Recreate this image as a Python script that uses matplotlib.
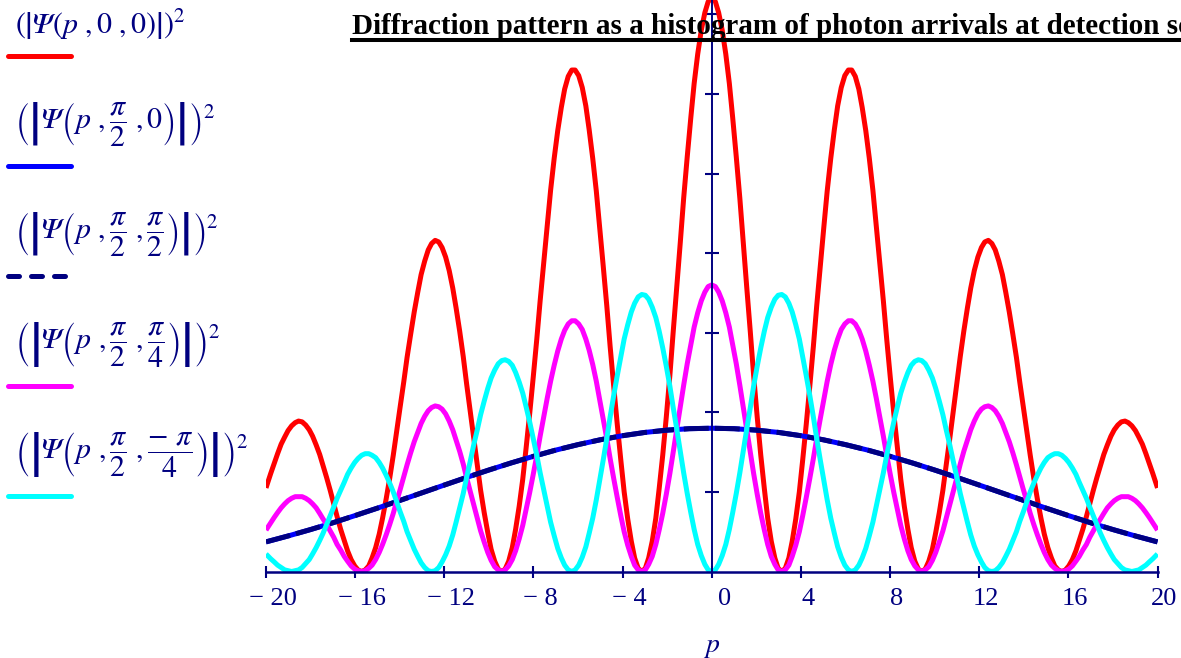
import matplotlib
matplotlib.use('Agg')
import matplotlib.pyplot as plt
from matplotlib.lines import Line2D
from matplotlib.transforms import ScaledTranslation

plt.rcParams['font.family'] = ['Liberation Serif', 'DejaVu Serif']
plt.rcParams['mathtext.fontset'] = 'stix'

# p positions of the fringe curves (read along the axis)
p = [-20.00, -19.79, -19.63, -19.48, -19.32, -19.16, -19.01, -18.85,
     -18.69, -18.54, -18.38, -18.22, -18.06, -17.91, -17.75, -17.59, -17.44, -17.28,
     -17.12, -16.96, -16.81, -16.65, -16.49, -16.34, -16.18, -16.02, -15.87, -15.71,
     -15.55, -15.39, -15.24, -15.08, -14.92, -14.77, -14.61, -14.45, -14.29, -14.14,
     -13.98, -13.82, -13.67, -13.51, -13.35, -13.19, -13.04, -12.88, -12.72, -12.57,
     -12.41, -12.25, -12.10, -11.94, -11.78, -11.62, -11.47, -11.31, -11.15, -11.00,
     -10.84, -10.68, -10.52, -10.37, -10.21, -10.05, -9.90, -9.74, -9.58, -9.42,
     -9.27, -9.11, -8.95, -8.80, -8.64, -8.48, -8.33, -8.17, -8.01, -7.85,
     -7.70, -7.54, -7.38, -7.23, -7.07, -6.91, -6.75, -6.60, -6.44, -6.28,
     -6.13, -5.97, -5.81, -5.65, -5.50, -5.34, -5.18, -5.03, -4.87, -4.71,
     -4.56, -4.40, -4.24, -4.08, -3.93, -3.77, -3.61, -3.46, -3.30, -3.14,
     -2.98, -2.83, -2.67, -2.51, -2.36, -2.20, -2.04, -1.88, -1.73, -1.57,
     -1.41, -1.26, -1.10, -0.94, -0.79, -0.63, -0.47, -0.31, -0.16,
     0.00, 0.16, 0.31, 0.47, 0.63, 0.79, 0.94, 1.10, 1.26, 1.41,
     1.57, 1.73, 1.88, 2.04, 2.20, 2.36, 2.51, 2.67, 2.83, 2.98,
     3.14, 3.30, 3.46, 3.61, 3.77, 3.93, 4.08, 4.24, 4.40, 4.56,
     4.71, 4.87, 5.03, 5.18, 5.34, 5.50, 5.65, 5.81, 5.97, 6.13,
     6.28, 6.44, 6.60, 6.75, 6.91, 7.07, 7.23, 7.38, 7.54, 7.70,
     7.85, 8.01, 8.17, 8.33, 8.48, 8.64, 8.80, 8.95, 9.11, 9.27,
     9.42, 9.58, 9.74, 9.90, 10.05, 10.21, 10.37, 10.52, 10.68, 10.84,
     11.00, 11.15, 11.31, 11.47, 11.62, 11.78, 11.94, 12.10, 12.25, 12.41,
     12.57, 12.72, 12.88, 13.04, 13.19, 13.35, 13.51, 13.67, 13.82, 13.98,
     14.14, 14.29, 14.45, 14.61, 14.77, 14.92, 15.08, 15.24, 15.39, 15.55,
     15.71, 15.87, 16.02, 16.18, 16.34, 16.49, 16.65, 16.81, 16.96, 17.12,
     17.28, 17.44, 17.59, 17.75, 17.91, 18.06, 18.22, 18.38, 18.54, 18.69,
     18.85, 19.01, 19.16, 19.32, 19.48, 19.63, 19.79, 20.00]

# |Psi(p,0,0)|^2  (red)
psi_0_0 = [1.05, 1.23, 1.36, 1.48, 1.60, 1.69, 1.77, 1.83,
           1.87, 1.89, 1.88, 1.84, 1.78, 1.70, 1.59, 1.47, 1.33, 1.18,
           1.02, 0.85, 0.69, 0.53, 0.39, 0.26, 0.15, 0.07, 0.02, 0.00,
           0.02, 0.07, 0.17, 0.30, 0.47, 0.67, 0.91, 1.17, 1.46, 1.76,
           2.07, 2.38, 2.69, 2.98, 3.26, 3.51, 3.73, 3.90, 4.04, 4.12,
           4.16, 4.14, 4.07, 3.95, 3.78, 3.56, 3.31, 3.02, 2.70, 2.36,
           2.02, 1.67, 1.34, 1.02, 0.74, 0.49, 0.28, 0.13, 0.03, 0.00,
           0.03, 0.13, 0.30, 0.53, 0.82, 1.16, 1.55, 1.98, 2.44, 2.92,
           3.40, 3.88, 4.35, 4.79, 5.19, 5.54, 5.83, 6.06, 6.22, 6.30,
           6.30, 6.23, 6.08, 5.85, 5.55, 5.19, 4.78, 4.33, 3.84, 3.34,
           2.83, 2.33, 1.85, 1.40, 1.00, 0.66, 0.38, 0.17, 0.04, 0.00,
           0.04, 0.17, 0.38, 0.67, 1.04, 1.46, 1.94, 2.46, 3.01, 3.57,
           4.14, 4.69, 5.21, 5.70, 6.13, 6.50, 6.80, 7.02, 7.16,
           7.20, 7.16, 7.02, 6.80, 6.50, 6.13, 5.70, 5.21, 4.69, 4.14,
           3.57, 3.01, 2.46, 1.94, 1.46, 1.04, 0.67, 0.38, 0.17, 0.04,
           0.00, 0.04, 0.17, 0.38, 0.66, 1.00, 1.40, 1.85, 2.33, 2.83,
           3.34, 3.84, 4.33, 4.78, 5.19, 5.55, 5.85, 6.08, 6.23, 6.30,
           6.30, 6.22, 6.06, 5.83, 5.54, 5.19, 4.79, 4.35, 3.88, 3.40,
           2.92, 2.44, 1.98, 1.55, 1.16, 0.82, 0.53, 0.30, 0.13, 0.03,
           0.00, 0.03, 0.13, 0.28, 0.49, 0.74, 1.02, 1.34, 1.67, 2.02,
           2.36, 2.70, 3.02, 3.31, 3.56, 3.78, 3.95, 4.07, 4.14, 4.16,
           4.12, 4.04, 3.90, 3.73, 3.51, 3.26, 2.98, 2.69, 2.38, 2.07,
           1.76, 1.46, 1.17, 0.91, 0.67, 0.47, 0.30, 0.17, 0.07, 0.02,
           0.00, 0.02, 0.07, 0.15, 0.26, 0.39, 0.53, 0.69, 0.85, 1.02,
           1.18, 1.33, 1.47, 1.59, 1.70, 1.78, 1.84, 1.88, 1.89, 1.87,
           1.83, 1.77, 1.69, 1.60, 1.48, 1.36, 1.23, 1.05]

# |Psi(p,pi/2,pi/4)|^2  (magenta)
psi_q_4 = [0.52, 0.61, 0.68, 0.74, 0.80, 0.85, 0.89, 0.92,
           0.94, 0.94, 0.94, 0.92, 0.89, 0.85, 0.80, 0.73, 0.66, 0.59,
           0.51, 0.43, 0.34, 0.27, 0.19, 0.13, 0.07, 0.03, 0.01, 0.00,
           0.01, 0.04, 0.08, 0.15, 0.24, 0.34, 0.46, 0.59, 0.73, 0.88,
           1.03, 1.19, 1.34, 1.49, 1.63, 1.75, 1.86, 1.95, 2.02, 2.06,
           2.08, 2.07, 2.04, 1.98, 1.89, 1.78, 1.65, 1.51, 1.35, 1.18,
           1.01, 0.84, 0.67, 0.51, 0.37, 0.24, 0.14, 0.06, 0.02, 0.00,
           0.02, 0.07, 0.15, 0.26, 0.41, 0.58, 0.78, 0.99, 1.22, 1.46,
           1.70, 1.94, 2.18, 2.39, 2.59, 2.77, 2.92, 3.03, 3.11, 3.15,
           3.15, 3.11, 3.04, 2.92, 2.78, 2.60, 2.39, 2.16, 1.92, 1.67,
           1.42, 1.17, 0.93, 0.70, 0.50, 0.33, 0.19, 0.08, 0.02, 0.00,
           0.02, 0.09, 0.19, 0.34, 0.52, 0.73, 0.97, 1.23, 1.50, 1.79,
           2.07, 2.34, 2.61, 2.85, 3.07, 3.25, 3.40, 3.51, 3.58,
           3.60, 3.58, 3.51, 3.40, 3.25, 3.07, 2.85, 2.61, 2.34, 2.07,
           1.79, 1.50, 1.23, 0.97, 0.73, 0.52, 0.34, 0.19, 0.09, 0.02,
           0.00, 0.02, 0.08, 0.19, 0.33, 0.50, 0.70, 0.93, 1.17, 1.42,
           1.67, 1.92, 2.16, 2.39, 2.60, 2.78, 2.92, 3.04, 3.11, 3.15,
           3.15, 3.11, 3.03, 2.92, 2.77, 2.59, 2.39, 2.18, 1.94, 1.70,
           1.46, 1.22, 0.99, 0.78, 0.58, 0.41, 0.26, 0.15, 0.07, 0.02,
           0.00, 0.02, 0.06, 0.14, 0.24, 0.37, 0.51, 0.67, 0.84, 1.01,
           1.18, 1.35, 1.51, 1.65, 1.78, 1.89, 1.98, 2.04, 2.07, 2.08,
           2.06, 2.02, 1.95, 1.86, 1.75, 1.63, 1.49, 1.34, 1.19, 1.03,
           0.88, 0.73, 0.59, 0.46, 0.34, 0.24, 0.15, 0.08, 0.04, 0.01,
           0.00, 0.01, 0.03, 0.07, 0.13, 0.19, 0.27, 0.34, 0.43, 0.51,
           0.59, 0.66, 0.73, 0.80, 0.85, 0.89, 0.92, 0.94, 0.94, 0.94,
           0.92, 0.89, 0.85, 0.80, 0.74, 0.68, 0.61, 0.52]

# |Psi(p,pi/2,-pi/4)|^2  (cyan)
psi_q_m4 = [0.22, 0.16, 0.12, 0.08, 0.05, 0.02, 0.01, 0.00,
            0.01, 0.02, 0.05, 0.10, 0.15, 0.22, 0.30, 0.39, 0.48, 0.59,
            0.70, 0.81, 0.92, 1.02, 1.12, 1.22, 1.30, 1.37, 1.42, 1.46,
            1.48, 1.48, 1.46, 1.43, 1.37, 1.30, 1.21, 1.11, 1.00, 0.88,
            0.75, 0.63, 0.50, 0.39, 0.28, 0.19, 0.11, 0.05, 0.01, 0.00,
            0.01, 0.05, 0.12, 0.21, 0.32, 0.46, 0.62, 0.80, 0.98, 1.18,
            1.38, 1.59, 1.78, 1.97, 2.14, 2.30, 2.43, 2.53, 2.61, 2.65,
            2.66, 2.64, 2.59, 2.50, 2.38, 2.24, 2.07, 1.88, 1.67, 1.46,
            1.24, 1.03, 0.82, 0.62, 0.45, 0.29, 0.17, 0.08, 0.02, 0.00,
            0.02, 0.08, 0.18, 0.31, 0.48, 0.67, 0.90, 1.14, 1.40, 1.67,
            1.94, 2.21, 2.46, 2.70, 2.92, 3.10, 3.26, 3.37, 3.45, 3.48,
            3.47, 3.42, 3.32, 3.19, 3.02, 2.81, 2.58, 2.33, 2.06, 1.79,
            1.51, 1.24, 0.98, 0.74, 0.53, 0.34, 0.20, 0.09, 0.02,
            0.00, 0.02, 0.09, 0.20, 0.34, 0.53, 0.74, 0.98, 1.24, 1.51,
            1.79, 2.06, 2.33, 2.58, 2.81, 3.02, 3.19, 3.32, 3.42, 3.47,
            3.48, 3.45, 3.37, 3.26, 3.10, 2.92, 2.70, 2.46, 2.21, 1.94,
            1.67, 1.40, 1.14, 0.90, 0.67, 0.48, 0.31, 0.18, 0.08, 0.02,
            0.00, 0.02, 0.08, 0.17, 0.29, 0.45, 0.62, 0.82, 1.03, 1.24,
            1.46, 1.67, 1.88, 2.07, 2.24, 2.38, 2.50, 2.59, 2.64, 2.66,
            2.65, 2.61, 2.53, 2.43, 2.30, 2.14, 1.97, 1.78, 1.59, 1.38,
            1.18, 0.98, 0.80, 0.62, 0.46, 0.32, 0.21, 0.12, 0.05, 0.01,
            0.00, 0.01, 0.05, 0.11, 0.19, 0.28, 0.39, 0.50, 0.63, 0.75,
            0.88, 1.00, 1.11, 1.21, 1.30, 1.37, 1.43, 1.46, 1.48, 1.48,
            1.46, 1.42, 1.37, 1.30, 1.22, 1.12, 1.02, 0.92, 0.81, 0.70,
            0.59, 0.48, 0.39, 0.30, 0.22, 0.15, 0.10, 0.05, 0.02, 0.01,
            0.00, 0.01, 0.02, 0.05, 0.08, 0.12, 0.16, 0.22]

# envelope: |Psi(p,pi/2,0)|^2 and |Psi(p,pi/2,pi/2)|^2 lie on top of each other
p_env = [-20, -19, -18, -17, -16, -15, -14, -13, -12, -11, -10,
         -9, -8, -7, -6, -5, -4, -3, -2, -1, 0,
         1, 2, 3, 4, 5, 6, 7, 8, 9, 10,
         11, 12, 13, 14, 15, 16, 17, 18, 19, 20]
psi_q_0 = [0.372, 0.447, 0.527, 0.612, 0.703, 0.796, 0.892, 0.989, 1.086, 1.182, 1.275,
           1.364, 1.447, 1.525, 1.594, 1.655, 1.706, 1.747, 1.776, 1.794, 1.800,
           1.794, 1.776, 1.747, 1.706, 1.655, 1.594, 1.525, 1.447, 1.364, 1.275,
           1.182, 1.086, 0.989, 0.892, 0.796, 0.703, 0.612, 0.527, 0.447, 0.372]
psi_q_q = psi_q_0

assert len(p) == len(psi_0_0) == len(psi_q_4) == len(psi_q_m4)
assert len(p_env) == len(psi_q_0)

x_ticks = [-20, -16, -12, -8, -4, 0, 4, 8, 12, 16, 20]
x_tick_labels = ['\u2212 20', '\u2212 16', '\u2212 12', '\u2212 8', '\u2212 4',
                 '0', '4', '8', '12', '16', '20']
y_ticks = [1, 2, 3, 4, 5, 6, 7]

# italic capital psi, as Mathcad sets it
PSI = '\U0001D6F9'
legend_labels = [
    r'$\left(\left|' + PSI + r'\left(p\ ,0\ ,0\right)\right|\right)^{2}$',
    r'$\left(\left|' + PSI + r'\left(p\ ,\dfrac{\pi}{2}\ ,0\right)\right|\right)^{2}$',
    r'$\left(\left|' + PSI + r'\left(p\ ,\dfrac{\pi}{2}\ ,\dfrac{\pi}{2}\right)\right|\right)^{2}$',
    r'$\left(\left|' + PSI + r'\left(p\ ,\dfrac{\pi}{2}\ ,\dfrac{\pi}{4}\right)\right|\right)^{2}$',
    r'$\left(\left|' + PSI + r'\left(p\ ,\dfrac{\pi}{2}\ ,\dfrac{-\ \pi}{4}\right)\right|\right)^{2}$',
]
title = 'Diffraction pattern as a histogram of photon arrivals at detection screen'

navy = '#000080'
W, H = 1181, 658

fig = plt.figure(figsize=(W / 100, H / 100), dpi=100)
ax = fig.add_axes([266 / W, 1 - 571.5 / H, 891.5 / W, 571.5 / H])

lw = 3.6
ax.plot(p, psi_0_0, color='#FF0000', lw=lw, solid_capstyle='butt')
ax.plot(p_env, psi_q_0, color='#0000FF', lw=lw, solid_capstyle='butt')
ax.plot(p_env, psi_q_q, color=navy, lw=lw, dashes=(5, 1.2), dash_capstyle='butt')
ax.plot(p, psi_q_4, color='#FF00FF', lw=lw, solid_capstyle='butt')
ax.plot(p, psi_q_m4, color='#00FFFF', lw=lw, solid_capstyle='butt')

ax.set_xlim(-20, 20)
ax.set_ylim(0, 571.5 / 79.6)

# Mathcad style crossed axes
ax.spines['left'].set_position(('data', 0))
ax.spines['left'].set_color(navy)
ax.spines['left'].set_linewidth(1.4)
ax.spines['bottom'].set_color(navy)
ax.spines['bottom'].set_linewidth(1.8)
ax.spines['top'].set_visible(False)
ax.spines['right'].set_visible(False)

ax.set_xticks(x_ticks)
ax.set_xticklabels(x_tick_labels)
ax.set_yticks(y_ticks)
ax.set_yticklabels([])
ax.tick_params(axis='x', direction='inout', length=8, width=1.5, color=navy,
               labelcolor=navy, labelsize=19, pad=8)
ax.tick_params(axis='y', direction='inout', length=10, width=1.5, color=navy)

for val, lbl in zip(x_ticks, ax.get_xticklabels()):
    dx = 13 if val == 0 else 7
    lbl.set_transform(lbl.get_transform() + ScaledTranslation(dx / 100, 0, fig.dpi_scale_trans))

ax.set_xlabel(r'$p$', fontsize=20, color=navy)
ax.xaxis.set_label_coords(0.5, -(652 - 571.5) / 571.5)
ax.xaxis.label.set_va('baseline')

# legend column on the left, as Mathcad draws it
leg_colors = ['#FF0000', '#0000FF', navy, '#FF00FF', '#00FFFF']
leg_base = [34, 128, 238, 348, 458]
leg_line = [56, 166, 276, 386, 496]
for i, txt in enumerate(legend_labels):
    fig.text(15 / W, 1 - leg_base[i] / H, txt, fontsize=21.5, color=navy,
             ha='left', va='baseline')
    ln = Line2D([8 / W, 71 / W], [1 - leg_line[i] / H] * 2, transform=fig.transFigure,
                color=leg_colors[i], lw=lw, solid_capstyle='round', dash_capstyle='round')
    if i == 2:
        ln.set_dashes((2.2, 2.4))
    fig.add_artist(ln)

# the title runs past the right edge of the sheet, as in the original
t = fig.text(352 / W, 1 - 34 / H, title, fontsize=21, fontweight='bold',
             color='black', ha='left', va='baseline')
fig.canvas.draw()
bb = t.get_window_extent()
fig.add_artist(Line2D([bb.x0 / W, 1.0], [1 - 40 / H] * 2, transform=fig.transFigure,
                      color='black', lw=2.9))

fig.savefig('out.png', dpi=100)
